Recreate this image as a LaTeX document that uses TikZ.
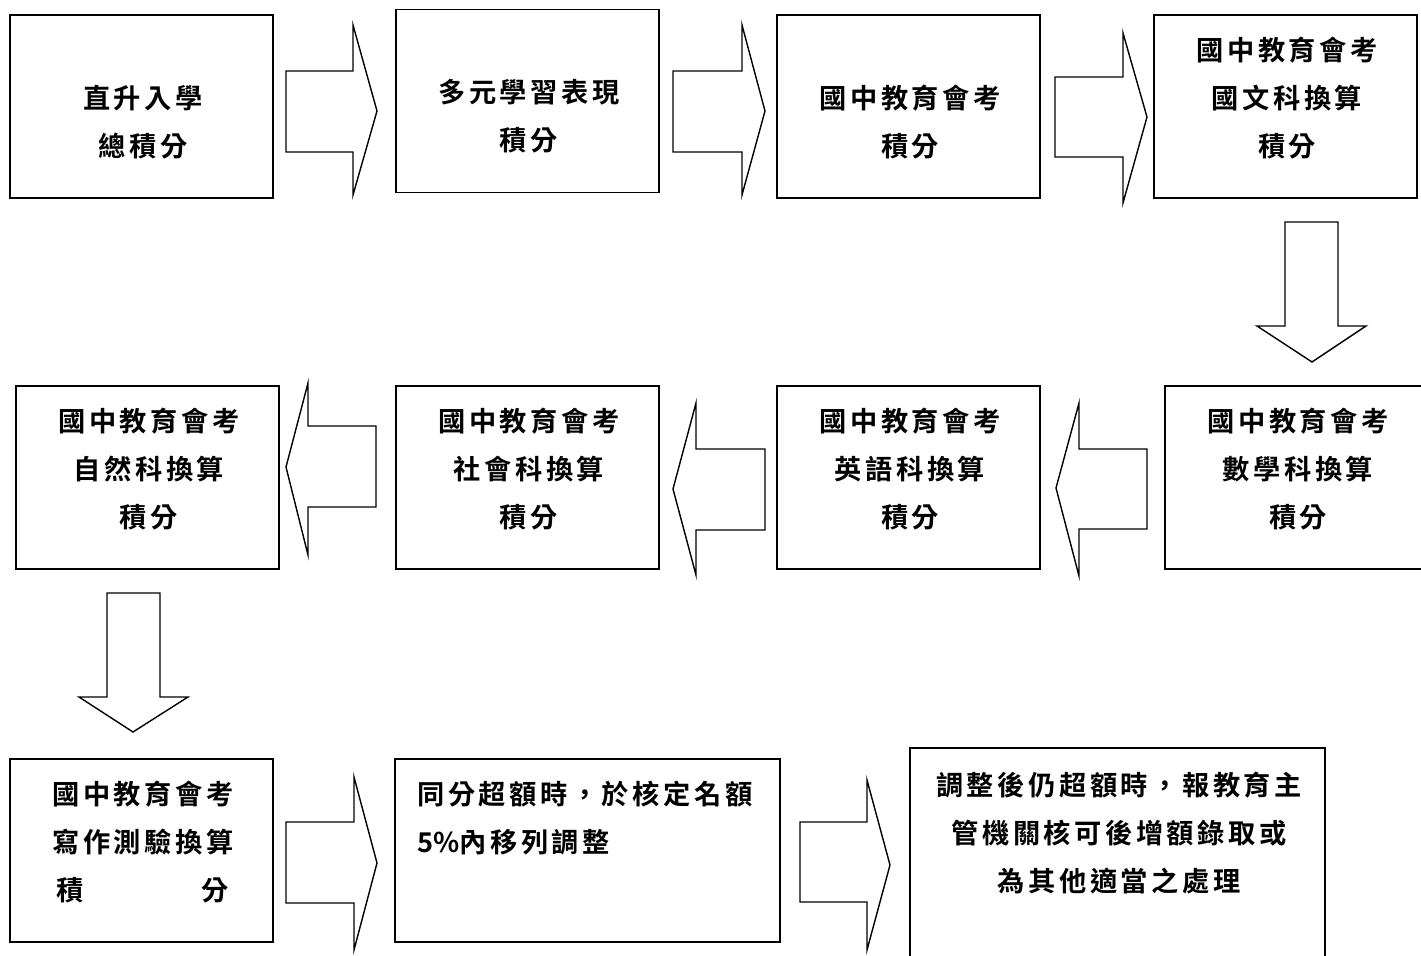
\documentclass[tikz,border=0pt]{standalone}
\usepackage{fontspec}
\newfontfamily\cjk{Noto Sans CJK TC Bold}[LetterSpace=13]

\tikzset{
  box/.style={draw, line width=1.1pt, minimum width=5.26cm, minimum height=3.66cm, inner sep=0pt},
  txt/.style={font=\cjk\fontsize{15.5}{27.3}\selectfont, align=center, inner sep=0pt},
  blk/.style={draw, line width=0.8pt, line join=miter}
}
% block arrow pointing left or right: shaft end, head base, tip, tip y, shaft top, shaft bottom, head top, head bottom
\newcommand{\harrow}[8]{\draw[blk] (#1,#5) -- (#2,#5) -- (#2,#7) -- (#3,#4) -- (#2,#8) -- (#2,#6) -- (#1,#6) -- cycle;}
% block arrow pointing down: shaft top, head base, tip, tip x, shaft left, shaft right, head left, head right
\newcommand{\varrow}[8]{\draw[blk] (#5,#1) -- (#5,#2) -- (#7,#2) -- (#4,#3) -- (#8,#2) -- (#6,#2) -- (#6,#1) -- cycle;}

\begin{document}
\begin{tikzpicture}[x=0.02cm,y=-0.02cm]
\useasboundingbox (0,0) rectangle (1421,956);

% first row
\node[box] (b1) at (141.5,106.5) {};
\node[box] (b2) at (527.5,101) {};
\node[box] (b3) at (908.5,106.5) {};
\node[box] (b4) at (1285.5,106.5) {};
\node[txt] (t1) at (143,122) {直升入學\\總積分};
\node[txt] (t2) at (529,116) {多元學習表現\\積分};
\node[txt] (t3) at (910,122) {國中教育會考\\積分};
\node[txt] (t4) at (1287,98) {國中教育會考\\國文科換算\\積分};

\harrow{286}{353}{377}{111}{71}{152}{25}{195}
\harrow{673}{742}{765}{111}{71}{152}{25}{195}
\harrow{1055}{1123}{1147}{117}{77}{157}{33}{203}
\varrow{222}{326}{362}{1312}{1285}{1338}{1257}{1366}

% second row
\node[box] (b5) at (147.5,477.5) {};
\node[box] (b6) at (527.5,477.5) {};
\node[box] (b7) at (908.5,477.5) {};
\node[box] (b8) at (1296.5,477.5) {};
\node[txt] (t5) at (149,469) {國中教育會考\\自然科換算\\積分};
\node[txt] (t6) at (529,469) {國中教育會考\\社會科換算\\積分};
\node[txt] (t7) at (910,469) {國中教育會考\\英語科換算\\積分};
\node[txt] (t8) at (1298,469) {國中教育會考\\數學科換算\\積分};

\harrow{1147}{1079}{1056}{488}{449}{529}{403}{576}
\harrow{765}{696}{673}{489}{449}{530}{403}{575}
\harrow{376}{308}{286}{467}{426}{507}{383}{555}
\varrow{593}{697}{732}{133}{107}{160}{79}{188}

% third row
\node[box] (b9) at (141.5,850.5) {};
\node[box, minimum width=7.7cm] (b10) at (587.5,850.5) {};
\node[box, minimum width=8.3cm, minimum height=4.44cm] (b11) at (1117.5,859) {};
\node[txt] (t9) at (143,842) {國中教育會考\\寫作測驗換算\\\makebox[3.45cm]{積\hfill 分}};
\node[txt, align=left, anchor=west] (t10) at (417,818.5) {同分超額時，於核定名額\\{\addfontfeature{LetterSpace=0}5\%}內移列調整};
\node[txt] (t11) at (1119,833) {調整後仍超額時，報教育主\\管機關核可後增額錄取或\\為其他適當之處理};

\harrow{286}{354}{377}{863}{822}{903}{777}{950}
\harrow{800}{867}{890}{865}{822}{902}{780}{950}
\end{tikzpicture}
\end{document}
